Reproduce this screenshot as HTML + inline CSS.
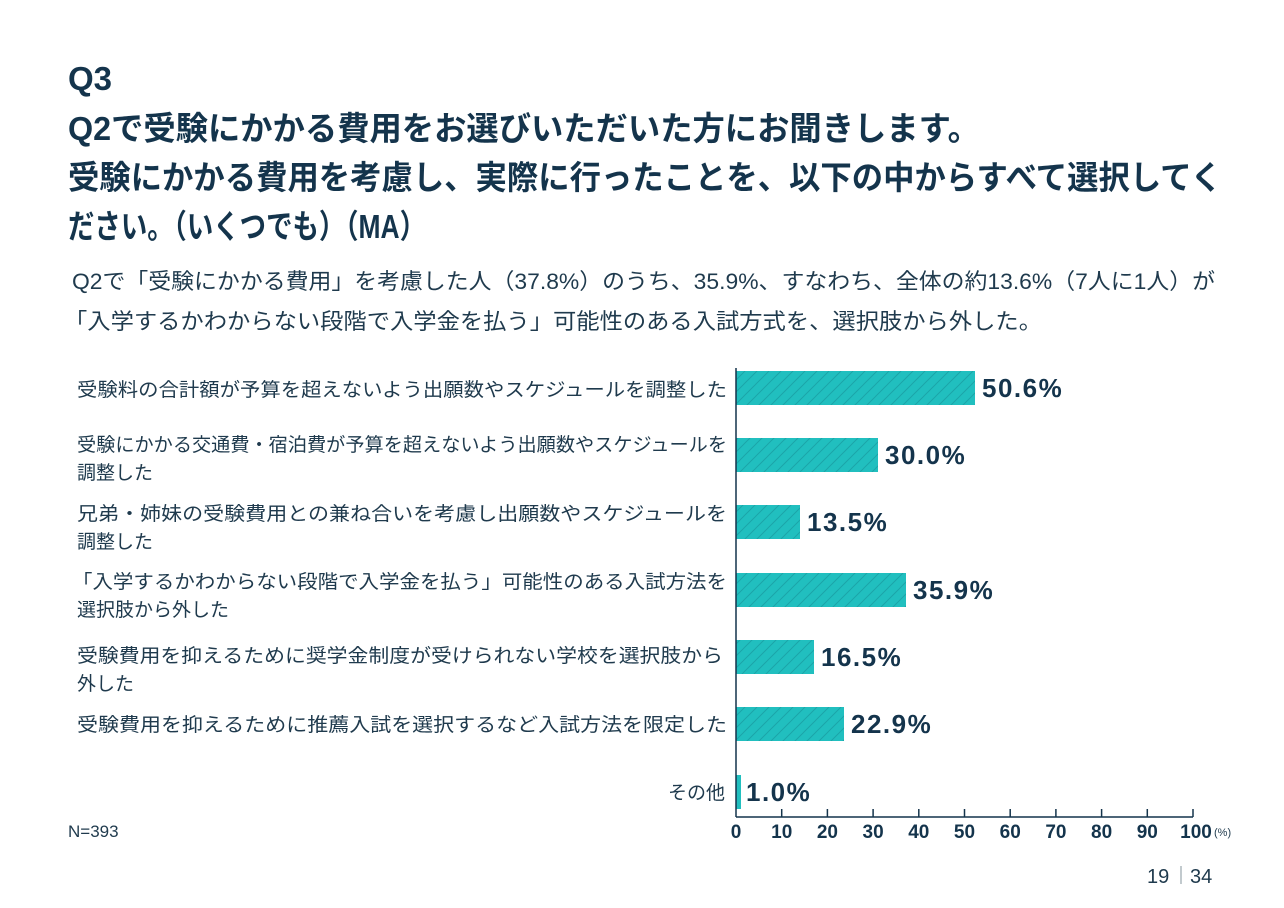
<!DOCTYPE html>
<html><head><meta charset="utf-8"><style>
html,body{margin:0;padding:0;background:#fff}
svg{display:block}
text{font-family:"Liberation Sans","Noto Sans CJK JP",sans-serif}
.t{font-weight:bold;fill:#14344c;font-size:33px}
.s{fill:#1f3a4d;font-size:22px}
.l{fill:#1f3a4d;font-size:19px}
.v{font-weight:bold;fill:#14344c;font-size:26px;letter-spacing:1.5px}
.k{font-weight:bold;fill:#14344c;font-size:19px}
</style></head><body>
<svg width="1284" height="908" viewBox="0 0 1284 908" xmlns="http://www.w3.org/2000/svg">
<defs>
<pattern id="h" patternUnits="userSpaceOnUse" width="12" height="12">
<rect width="12" height="12" fill="#21bfbf"/>
<path d="M-3,15 L15,-3 M-3,3 L3,-3 M9,15 L15,9" stroke="#179a9f" stroke-width="1" opacity="0.7"/>
</pattern>
</defs>
<text x="68" y="90" class="t" font-size="28">Q3</text>
<text x="68" y="140" class="t" textLength="912" lengthAdjust="spacingAndGlyphs">Q2で受験にかかる費用をお選びいただいた方にお聞きします。</text>
<text x="68" y="189" class="t" textLength="1154" lengthAdjust="spacingAndGlyphs">受験にかかる費用を考慮し、実際に行ったことを、以下の中からすべて選択してく</text>
<text x="68" y="238" class="t" textLength="358" lengthAdjust="spacingAndGlyphs">ださい。（いくつでも）（MA）</text>
<text x="72" y="289" class="s" textLength="1143" lengthAdjust="spacingAndGlyphs">Q2で「受験にかかる費用」を考慮した人（37.8%）のうち、35.9%、すなわち、全体の約13.6%（7人に1人）が</text>
<text x="64" y="329" class="s" textLength="978" lengthAdjust="spacingAndGlyphs">「入学するかわからない段階で入学金を払う」可能性のある入試方式を、選択肢から外した。</text>

<text x="77" y="396" class="l" textLength="650" lengthAdjust="spacingAndGlyphs">受験料の合計額が予算を超えないよう出願数やスケジュールを調整した</text>
<text x="77" y="451" class="l" textLength="650" lengthAdjust="spacingAndGlyphs">受験にかかる交通費・宿泊費が予算を超えないよう出願数やスケジュールを</text>
<text x="77" y="479" class="l">調整した</text>
<text x="77" y="520" class="l" textLength="650" lengthAdjust="spacingAndGlyphs">兄弟・姉妹の受験費用との兼ね合いを考慮し出願数やスケジュールを</text>
<text x="77" y="548" class="l">調整した</text>
<text x="72" y="588" class="l" textLength="655" lengthAdjust="spacingAndGlyphs">「入学するかわからない段階で入学金を払う」可能性のある入試方法を</text>
<text x="77" y="616" class="l">選択肢から外した</text>
<text x="77" y="662" class="l" textLength="646" lengthAdjust="spacingAndGlyphs">受験費用を抑えるために奨学金制度が受けられない学校を選択肢から</text>
<text x="77" y="690" class="l">外した</text>
<text x="77" y="731" class="l" textLength="650" lengthAdjust="spacingAndGlyphs">受験費用を抑えるために推薦入試を選択するなど入試方法を限定した</text>
<text x="725" y="799" class="l" text-anchor="end">その他</text>

<rect x="736" y="371" width="239" height="34" fill="url(#h)"/>
<rect x="736" y="438" width="142" height="34" fill="url(#h)"/>
<rect x="736" y="505" width="64" height="34" fill="url(#h)"/>
<rect x="736" y="573" width="170" height="34" fill="url(#h)"/>
<rect x="736" y="640" width="78" height="34" fill="url(#h)"/>
<rect x="736" y="707" width="108" height="34" fill="url(#h)"/>
<rect x="736" y="775" width="5" height="34" fill="#21bfbf"/>

<text x="982" y="397" class="v">50.6%</text>
<text x="885" y="464" class="v">30.0%</text>
<text x="807" y="531" class="v">13.5%</text>
<text x="913" y="599" class="v">35.9%</text>
<text x="821" y="666" class="v">16.5%</text>
<text x="851" y="733" class="v">22.9%</text>
<text x="746" y="801" class="v">1.0%</text>

<g stroke="#14344c" stroke-width="1.5">
<line x1="736" y1="368" x2="736" y2="817"/>
<line x1="736" y1="817" x2="1193" y2="817"/>
<line x1="781.7" y1="809" x2="781.7" y2="817"/>
<line x1="827.4" y1="809" x2="827.4" y2="817"/>
<line x1="873.1" y1="809" x2="873.1" y2="817"/>
<line x1="918.8" y1="809" x2="918.8" y2="817"/>
<line x1="964.5" y1="809" x2="964.5" y2="817"/>
<line x1="1010.2" y1="809" x2="1010.2" y2="817"/>
<line x1="1055.9" y1="809" x2="1055.9" y2="817"/>
<line x1="1101.6" y1="809" x2="1101.6" y2="817"/>
<line x1="1147.3" y1="809" x2="1147.3" y2="817"/>
<line x1="1193" y1="809" x2="1193" y2="817"/>
</g>
<g text-anchor="middle">
<text x="736" y="838" class="k">0</text>
<text x="781.7" y="838" class="k">10</text>
<text x="827.4" y="838" class="k">20</text>
<text x="873.1" y="838" class="k">30</text>
<text x="918.8" y="838" class="k">40</text>
<text x="964.5" y="838" class="k">50</text>
<text x="1010.2" y="838" class="k">60</text>
<text x="1055.9" y="838" class="k">70</text>
<text x="1101.6" y="838" class="k">80</text>
<text x="1147.3" y="838" class="k">90</text>
<text x="1196" y="838" class="k">100</text>
</g>
<text x="1214" y="836" fill="#1f3a4d" font-size="11">(%)</text>
<text x="68" y="837" fill="#1f3a4d" font-size="17">N=393</text>
<text x="1147" y="883" fill="#1f3a4d" font-size="20">19</text>
<line x1="1181" y1="866" x2="1181" y2="884" stroke="#9aa6ae" stroke-width="1.2"/>
<text x="1190" y="883" fill="#1f3a4d" font-size="20">34</text>
</svg>
</body></html>
